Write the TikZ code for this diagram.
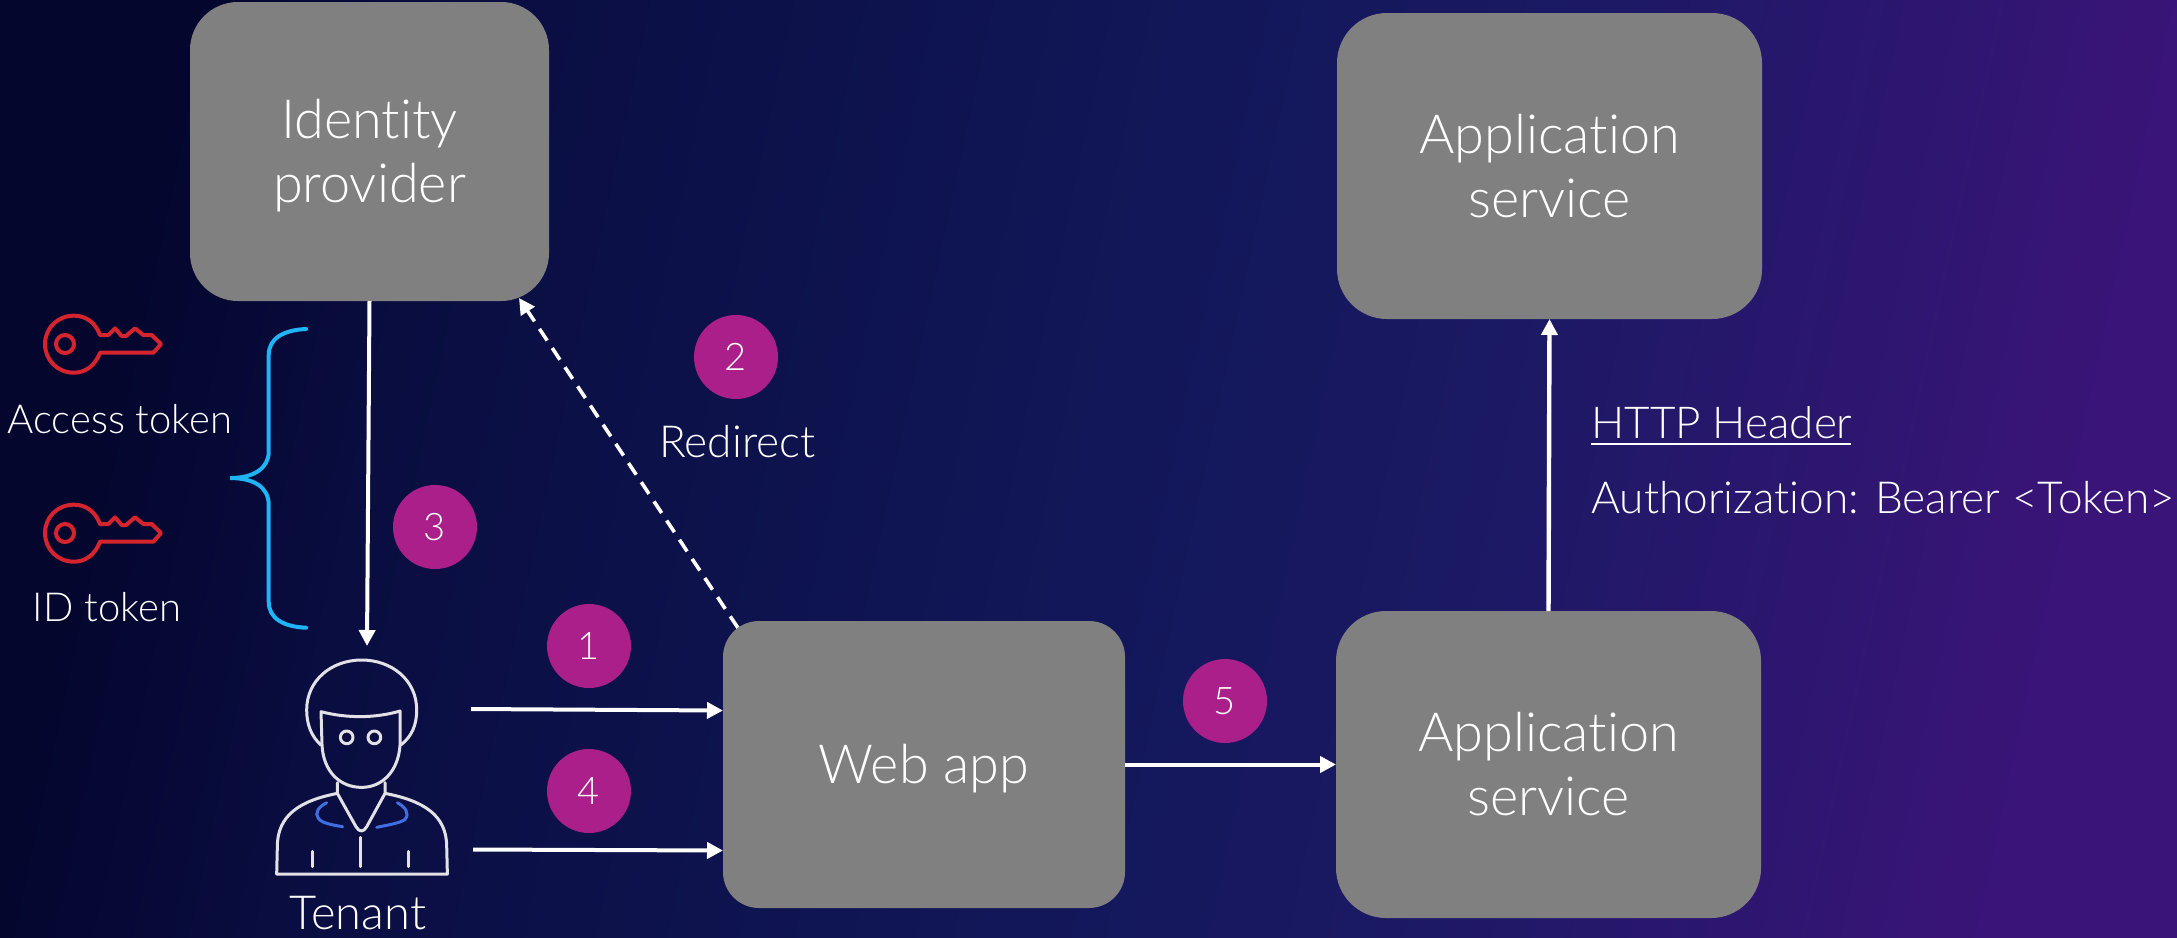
\documentclass[tikz,border=0pt]{standalone}
\usepackage{fontspec}
\setmainfont{Lato}[UprightFont=* Light,Ligatures=NoCommon]
\usetikzlibrary{arrows.meta,calc}
\definecolor{boxgrey}{HTML}{808080}
\definecolor{badge}{HTML}{AB1F8A}
\definecolor{keyred}{HTML}{D6242E}
\definecolor{bracecol}{HTML}{1FB4F5}
\definecolor{personline}{HTML}{E2E2E6}
\definecolor{collar}{HTML}{3F6FE0}
\definecolor{bgA}{HTML}{04062E}
\definecolor{bgB}{HTML}{090D40}
\definecolor{bgC}{HTML}{111758}
\definecolor{bgD}{HTML}{1B1964}
\definecolor{bgE}{HTML}{3A1478}
\pgfdeclarehorizontalshading{bggrad}{100bp}{
 color(0bp)=(bgA);
 color(25bp)=(bgA);
 color(32bp)=(bgB);
 color(50bp)=(bgC);
 color(60bp)=(bgD);
 color(75bp)=(bgE);
 color(100bp)=(bgE)}
\newcommand{\lowered}[1]{\raisebox{-2pt}[\height][\depth]{#1}}
\tikzset{
 x=0.5pt,y=-0.5pt,
 box/.style={fill=boxgrey,text=white,align=center,inner sep=0pt,outer sep=0pt,font=\fontsize{27}{32}\selectfont},
 num/.style={circle,fill=badge,text=white,minimum size=42pt,inner sep=0pt,font=\fontsize{19}{22}\selectfont},
 lbl/.style={text=white,inner sep=0pt,font=\fontsize{20}{24}\selectfont},
 lblb/.style={text=white,inner sep=0pt,font=\fontsize{22.1}{26}\selectfont},
 flow/.style={draw=white,line width=2pt,-{Triangle[length=8pt,width=8pt]}},
 keyline/.style={draw=keyred,line width=2pt,line join=round},
 braceline/.style={draw=bracecol,line width=2pt,line cap=round},
 pline/.style={draw=personline,line width=1.5pt,line join=round,line cap=round},
 cline/.style={draw=collar,line width=1.5pt,line cap=round},
}
\newcommand{\drawkey}[2]{%
 \begin{scope}[shift={(#1,#2)},x=0.1667pt,y=-0.1667pt]
  \draw[keyline] (300,165) .. controls (285,125) and (255,107) .. (222,107)
   .. controls (172,107) and (135,145) .. (135,192)
   .. controls (135,240) and (172,278) .. (222,278)
   .. controls (255,278) and (285,258) .. (300,218)
   -- (460,218) -- (483,192) -- (455,165) -- (430,165) -- (405,145) -- (378,168) -- (365,168) -- (345,145) -- (325,165) -- cycle;
  \draw[keyline] (195,192) circle[radius=27];
 \end{scope}}
\begin{document}
\begin{tikzpicture}
\useasboundingbox (0,0) rectangle (2177,937);
\shade[shading=bggrad,shading angle=-12] (0,0) rectangle (2177,937);
% connectors under boxes
\coordinate (dashS) at (738,628);
\coordinate (dashE) at (519,298);
\draw[flow,line width=1.8pt,dash pattern=on 7pt off 4.5pt] (dashS) -- (dashE);
% boxes
\node[box,rounded corners=24pt,minimum width=179.5pt,minimum height=149.5pt] (idp) at (369.5,151.5) {\lowered{Identity}\\\lowered{provider}};
\node[box,rounded corners=25pt,minimum width=212.5pt,minimum height=153pt] (svctop) at (1549.5,166) {Application\\service};
\node[box,rounded corners=18pt,minimum width=201pt,minimum height=143.5pt] (web) at (924,764.5) {\lowered{Web app}};
\node[box,rounded corners=25pt,minimum width=212.5pt,minimum height=153.5pt] (svcbot) at (1548.5,764.5) {Application\\service};
% badges
\node[num] (n1) at (589,646) {1};
\node[num] (n2) at (736,357) {2};
\node[num] (n3) at (435,527) {3};
\node[num] (n4) at (589,791) {4};
\node[num] (n5) at (1225,701) {5};
% labels
\node[lblb,anchor=base] (lredir) at (737.5,457) {Redirect};
\node[lbl,anchor=base] (laccess) at (120,433) {Access token};
\node[lbl,anchor=base] (lid) at (107,621) {ID token};
\node[lblb,anchor=base,font=\fontsize{23.5}{28}\selectfont] (ltenant) at (358,929) {Tenant};
\node[lblb,anchor=base west,font=\fontsize{22}{26}\selectfont] (lhttp) at (1591,438) {HTTP Header};
\node[lblb,anchor=base west] (lauth) at (1591,513) {Authorization: Bearer <Token>};
\draw[white,line width=1.2pt] (1591,444) -- (1851,444);
% arrows
\coordinate (t1) at (471,709); \coordinate (w1) at (723,710.5);
\coordinate (t4) at (473,849.5); \coordinate (w4) at (723,850.5);
\coordinate (ten) at (367,646);
\draw[flow] (t1) -- (w1);
\draw[flow] (t4) -- (w4);
\draw[flow] (web.east) -- (svcbot.west);
\draw[flow] (idp.south) -- (ten);
\draw[flow,line width=2.2pt] (svcbot.north) -- (svctop.south);
% keys
\drawkey{0}{280}
\drawkey{0}{469}
% brace
\begin{scope}[shift={(0,280)},x=0.1667pt,y=-0.1667pt]
\draw[braceline] (918,147) .. controls (850,150) and (806,175) .. (806,225) -- (806,515)
 .. controls (806,565) and (760,594) .. (690,594)
 .. controls (760,594) and (806,620) .. (806,675) -- (806,965)
 .. controls (806,1015) and (850,1040) .. (918,1043);
\end{scope}
% person
\begin{scope}[shift={(250,630)},x=0.1667pt,y=-0.1667pt]
\draw[pline] (213,345) .. controls (185,320) and (170,285) .. (170,240)
 .. controls (170,150) and (245,90) .. (335,90)
 .. controls (425,90) and (500,150) .. (500,240)
 .. controls (500,285) and (485,320) .. (452,345);
\draw[pline] (213,245) .. controls (290,265) and (375,265) .. (450,243)
 -- (450,345) .. controls (445,425) and (395,472) .. (335,472)
 .. controls (270,472) and (220,425) .. (216,345) -- cycle;
\draw[pline] (290,322) circle[radius=19];
\draw[pline] (373,322) circle[radius=19];
\draw[pline] (262,458) -- (262,490) -- (318,590) .. controls (328,607) and (340,607) .. (350,590) -- (405,490) -- (405,458);
\draw[pline] (262,490) .. controls (150,512) and (82,555) .. (82,650) -- (80,732) -- (592,732) -- (590,650)
 .. controls (590,555) and (520,512) .. (405,490);
\draw[pline] (332,622) -- (332,710);
\draw[pline] (187,664) -- (187,710);
\draw[pline] (475,664) -- (475,710);
\draw[cline] (230,518) .. controls (205,530) and (193,550) .. (205,565) .. controls (215,580) and (250,585) .. (278,590);
\draw[cline] (442,518) .. controls (465,530) and (480,550) .. (465,568) .. controls (450,580) and (410,585) .. (380,592);
\end{scope}
\end{tikzpicture}
\end{document}
